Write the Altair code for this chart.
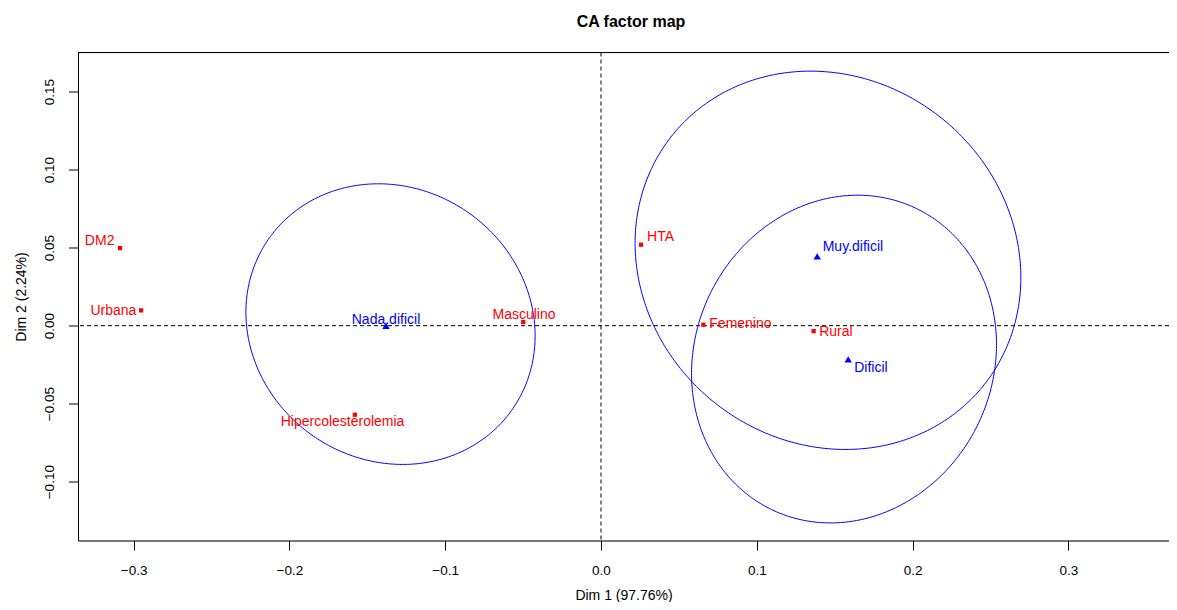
import numpy as np
import pandas as pd
import altair as alt

# ---- data ----
row_names = ["DM2", "Urbana", "Masculino", "Hipercolesterolemia", "HTA", "Femenino", "Rural"]
row_x = [-0.3087, -0.2952, -0.0499, -0.1580, 0.0257, 0.0657, 0.1365]
row_y = [0.0497, 0.0098, 0.0023, -0.0571, 0.0519, 0.0006, -0.0035]
row_lab_x = [-0.3218, -0.3130, -0.0494, -0.1659, 0.0382, 0.0895, 0.1508]
row_lab_y = [0.0540, 0.0094, 0.0068, -0.0615, 0.0571, 0.0008, -0.0038]

col_names = ["Nada.dificil", "Muy.dificil", "Dificil"]
col_x = [-0.1380, 0.1388, 0.1587]
col_y = [0.0000, 0.0444, -0.0216]
col_lab_x = [-0.1380, 0.1617, 0.1733]
col_lab_y = [0.0037, 0.0502, -0.0271]

# confidence ellipses of the column points: centre, semi-axes, rotation (deg)
ell_cx = [-0.1351, 0.1457, 0.1560]
ell_cy = [0.0010, 0.0419, -0.0214]
ell_a = [0.0954, 0.1281, 0.1071]
ell_b = [0.0872, 0.1167, 0.0956]
ell_angle = [-34.7, -38.5, 64.3]

x_ticks = [-0.3, -0.2, -0.1, 0.0, 0.1, 0.2, 0.3]
y_ticks = [-0.10, -0.05, 0.00, 0.05, 0.10, 0.15]
x_domain = [-0.3357, 0.3646]
y_domain = [-0.1377, 0.1751]

title_text = "CA factor map"
x_title = "Dim 1 (97.76%)"
y_title = "Dim 2 (2.24%)"

# ---- tables ----
rows_df = pd.DataFrame({"name": row_names, "x": row_x, "y": row_y})
rows_lab = pd.DataFrame({"name": row_names, "x": row_lab_x, "y": row_lab_y})
cols_df = pd.DataFrame({"name": col_names, "x": col_x, "y": col_y})
cols_lab = pd.DataFrame({"name": col_names, "x": col_lab_x, "y": col_lab_y})

t = np.linspace(0, 2 * np.pi, 361)
parts = []
for name, cx, cy, a, b, ang in zip(col_names, ell_cx, ell_cy, ell_a, ell_b, ell_angle):
    th = np.deg2rad(ang)
    xs = cx + a * np.cos(th) * np.cos(t) - b * np.sin(th) * np.sin(t)
    ys = cy + a * np.sin(th) * np.cos(t) + b * np.cos(th) * np.sin(t)
    parts.append(pd.DataFrame({"ell": name, "i": np.arange(len(t)), "x": xs, "y": ys}))
ell_df = pd.concat(parts, ignore_index=True)

zero_df = pd.DataFrame({"x": [0.0], "y": [0.0]})

FONT = "Liberation Sans"
W, H = 1091, 488

xscale = alt.Scale(domain=x_domain, nice=False, zero=False)
yscale = alt.Scale(domain=y_domain, nice=False, zero=False)

xaxis = alt.Axis(values=x_ticks, format=".1f", grid=False, tickSize=9.5, tickColor="black",
                 domainColor="black", labelFont=FONT, labelFontSize=13.5, labelColor="black",
                 labelBaseline="alphabetic", labelPadding=24, labelFlush=False, labelOverlap=False,
                 titleFont=FONT, titleFontSize=14, titleFontWeight="normal", titleColor="black",
                 titleBaseline="alphabetic", titleY=58.5)
yaxis = alt.Axis(values=y_ticks, format=".2f", grid=False, tickSize=9.5, tickColor="black",
                 domainColor="black", labelFont=FONT, labelFontSize=13.5, labelColor="black",
                 labelAngle=270, labelAlign="center", labelBaseline="alphabetic", labelPadding=15,
                 labelFlush=False, labelOverlap=False,
                 titleFont=FONT, titleFontSize=14, titleFontWeight="normal", titleColor="black",
                 titleBaseline="alphabetic", titleX=-53)

X = alt.X("x:Q", scale=xscale, axis=xaxis, title=x_title)
Y = alt.Y("y:Q", scale=yscale, axis=yaxis, title=y_title)

hline = alt.Chart(zero_df).mark_rule(color="black", strokeWidth=1, strokeDash=[4, 3]).encode(y=Y)
vline = alt.Chart(zero_df).mark_rule(color="black", strokeWidth=1, strokeDash=[4, 3]).encode(x=X)
topline = alt.Chart(zero_df).mark_rule(color="black", strokeWidth=1).encode(
    x=alt.value(0), x2=alt.value(W), y=alt.value(0))

ellipses = alt.Chart(ell_df).mark_line(color="#0000FF", strokeWidth=1).encode(
    x=X, y=Y, detail="ell:N", order="i:Q")

row_pts = alt.Chart(rows_df).mark_point(shape="square", filled=True, color="#FF0000",
                                        size=18, opacity=1).encode(x=X, y=Y)
col_pts = alt.Chart(cols_df).mark_point(shape="triangle-up", filled=True, color="#0000FF",
                                        size=55, opacity=1).encode(x=X, y=Y)
row_txt = alt.Chart(rows_lab).mark_text(font=FONT, fontSize=14, color="#FF0000",
                                        align="center", baseline="middle").encode(x=X, y=Y, text="name:N")
col_txt = alt.Chart(cols_lab).mark_text(font=FONT, fontSize=14, color="#0000FF",
                                        align="center", baseline="middle").encode(x=X, y=Y, text="name:N")

chart = alt.layer(hline, vline, topline, ellipses, row_pts, col_pts, row_txt, col_txt).properties(
    width=W, height=H,
    padding={"left": 70, "top": 44.5, "right": 0, "bottom": 61.5},
    autosize=alt.AutoSizeParams(type="none"),
    title=alt.TitleParams(text=title_text, font=FONT, fontSize=16, fontWeight="bold",
                          color="black", anchor="middle", baseline="alphabetic", offset=9.5,
                          frame="group", dx=7.5),
).configure_view(stroke=None).configure(background="white")

chart.save("out.html", embed_options={"renderer": "svg", "actions": False})
